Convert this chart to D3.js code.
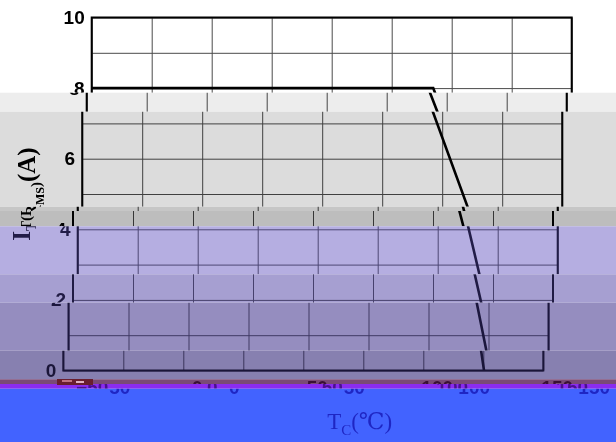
<!DOCTYPE html>
<html>
<head>
<meta charset="utf-8">
<script src="https://cdnjs.cloudflare.com/ajax/libs/d3/7.8.5/d3.min.js"></script>
<style>
  body { margin: 0; background: #fff; }
  svg { display: block; }
</style>
</head>
<body>
<div id="chart"></div>
<script>
// curve: case temperature (°C) vs max RMS on-state current (A)
const tempC = [-50, 92.3, 96, 110.5, 112.6, 117.3, 120, 124, 125.3];
const currentA = [8, 8, 7.35, 4.65, 4.1, 2.75, 1.95, 0.6, 0];

const xGridTicks = [-50, -25, 0, 25, 50, 75, 100, 125, 150];
const xLabelTicks = [-50, 0, 50, 100, 150];
const yGridTicks = [0, 1, 2, 3, 4, 5, 6, 7, 8, 9, 10];
const yLabelTicks = [0, 2, 4, 6, 8, 10];

// horizontal glitch strips of the scanned picture: [top, bottom, x shift, black ->, white ->]
const bands = [
  [0, 92.7, 0, '#000000', '#ffffff'],
  [92.7, 111.7, -5, '#000000', '#ededed'],
  [111.7, 206.7, -9.5, '#000000', '#dcdcdc'],
  [206.7, 211, -14, '#000000', '#c6c6c6'],
  [211, 226.3, -18.7, '#000000', '#bdbdbd'],
  [226.3, 274.3, -14, '#221d48', '#b5aee1'],
  [274.3, 302.7, -18.7, '#201b44', '#a69fd1'],
  [302.7, 350.7, -23.2, '#1c173e', '#958dbf'],
  [350.7, 379.3, -28.4, '#1a1538', '#8780b0'],
  [379.3, 384, -15, '#3a1034', '#7a4a76'],
  [384, 388.7, 0, '#4a1090', '#8b2cf0'],
  [388.7, 442, 22, '#1e26c4', '#4263ff']
];

const W = 616, H = 442;
const x = d3.scaleLinear().domain([-50, 150]).range([91.7, 571.7]);
const y = d3.scaleLinear().domain([0, 10]).range([370.5, 17.5]);

const svg = d3.select('#chart').append('svg')
  .attr('width', W)
  .attr('height', H);

const defs = svg.append('defs');

function drawChart(g) {
  g.append('rect')
    .attr('x', -80).attr('y', -20)
    .attr('width', W + 160).attr('height', H + 40)
    .attr('fill', '#fff');

  // grid
  const gx = g.append('g')
    .attr('transform', `translate(0,${y(0)})`)
    .call(d3.axisBottom(x).tickValues(xGridTicks).tickSize(-(y(0) - y(10))).tickFormat(''));
  const gy = g.append('g')
    .attr('transform', `translate(${x(-50)},0)`)
    .call(d3.axisLeft(y).tickValues(yGridTicks).tickSize(-(x(150) - x(-50))).tickFormat(''));
  [gx, gy].forEach(a => {
    a.select('.domain').remove();
    a.selectAll('line').attr('stroke', '#4a4a4a').attr('stroke-width', 1);
  });

  // frame
  g.append('rect')
    .attr('x', x(-50)).attr('y', y(10))
    .attr('width', x(150) - x(-50)).attr('height', y(0) - y(10))
    .attr('fill', 'none').attr('stroke', '#000').attr('stroke-width', 2);

  // tick labels
  const ly = g.append('g')
    .attr('transform', `translate(${x(-50)},0)`)
    .call(d3.axisLeft(y).tickValues(yLabelTicks).tickSize(0).tickPadding(7));
  const lx = g.append('g')
    .attr('transform', `translate(0,${y(0)})`)
    .call(d3.axisBottom(x).tickValues(xLabelTicks).tickSize(0).tickPadding(10));
  [lx, ly].forEach(a => {
    a.select('.domain').remove();
    a.selectAll('text')
      .attr('fill', '#000')
      .style('font-family', 'Arial, "Liberation Sans", sans-serif')
      .style('font-weight', 'bold')
      .style('font-size', '19px');
  });

  // curve
  const line = d3.line()
    .x((d, i) => x(tempC[i]))
    .y(d => y(d));
  g.append('path')
    .datum(currentA)
    .attr('fill', 'none')
    .attr('stroke', '#000')
    .attr('stroke-width', 2.6)
    .attr('d', line);

  // y title
  const yt = g.append('text')
    .attr('transform', `translate(44,${(y(0) + y(10)) / 2}) rotate(-90)`)
    .attr('text-anchor', 'middle')
    .style('font-family', '"Times New Roman", "Liberation Serif", serif')
    .style('font-weight', 'bold')
    .style('font-size', '25px')
    .attr('fill', '#000');
  yt.append('tspan').text('I');
  yt.append('tspan').attr('dy', 6).style('font-size', '15px').text('T(R');
  yt.append('tspan').attr('dy', 3).style('font-size', '12px').text('MS');
  yt.append('tspan').attr('dy', -3).style('font-size', '15px').text(')');
  yt.append('tspan').attr('dy', -6).text('(A)');

  // x title
  const xt = g.append('text')
    .attr('x', (x(-50) + x(150)) / 2 + 6)
    .attr('y', 429)
    .attr('text-anchor', 'middle')
    .style('font-family', '"Liberation Serif", "DejaVu Serif", serif')
    .style('font-size', '23px')
    .attr('fill', '#000');
  xt.append('tspan').text('T');
  xt.append('tspan').attr('dy', 6).style('font-size', '15px').text('C');
  xt.append('tspan').attr('dy', -6).text('(℃)');
}

bands.forEach((b, i) => {
  const [y0, y1, dx, c0, c1] = b;
  const lo = d3.rgb(c0), hi = d3.rgb(c1);
  const f = defs.append('filter')
    .attr('id', 'f' + i)
    .attr('filterUnits', 'userSpaceOnUse')
    .attr('x', -100).attr('y', -100).attr('width', W + 200).attr('height', H + 200)
    .attr('color-interpolation-filters', 'sRGB');
  const s = (a, c) => ((c - a) / 255).toFixed(4);
  f.append('feColorMatrix').attr('type', 'matrix').attr('values', [
    s(lo.r, hi.r), 0, 0, 0, (lo.r / 255).toFixed(4),
    0, s(lo.g, hi.g), 0, 0, (lo.g / 255).toFixed(4),
    0, 0, s(lo.b, hi.b), 0, (lo.b / 255).toFixed(4),
    0, 0, 0, 1, 0
  ].join(' '));
  defs.append('clipPath').attr('id', 'c' + i)
    .append('rect').attr('x', 0).attr('y', y0).attr('width', W).attr('height', y1 - y0);

  const outer = svg.append('g').attr('clip-path', `url(#c${i})`);
  const inner = outer.append('g')
    .attr('transform', `translate(${dx},0)`)
    .attr('filter', `url(#f${i})`);
  drawChart(inner);
});

// scrap of noise left in the dark strip
const noise = svg.append('g');
noise.append('rect').attr('x', 57).attr('y', 379).attr('width', 36).attr('height', 6).attr('fill', '#6a1e2e');
noise.append('rect').attr('x', 62).attr('y', 380).attr('width', 10).attr('height', 2).attr('fill', '#c07080');
noise.append('rect').attr('x', 76).attr('y', 381).attr('width', 8).attr('height', 2).attr('fill', '#e0b0c0');
</script>
</body>
</html>
